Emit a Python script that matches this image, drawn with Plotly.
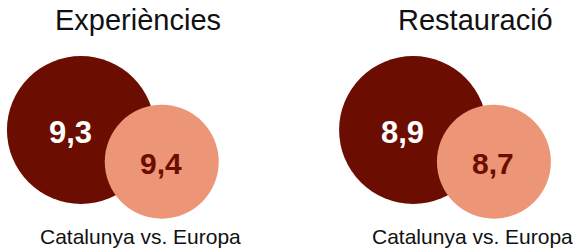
import plotly.graph_objects as go

# ---- data ----
categories = ["Experiències", "Restauració"]
catalunya = [9.3, 8.9]
europa = [9.4, 8.7]
caption = "Catalunya vs. Europa"

def fmt(v):
    return f"{v:.1f}".replace(".", ",")

# ---- style ----
DARK = "#6B0D00"
SALMON = "#EC9577"
FONT = "Liberation Sans, Arial, Helvetica, sans-serif"
W, H = 575, 248
UNIT = 332.15          # px per category
MID0 = 121.35          # px of first pair centre
OFF = 40.4 / UNIT      # horizontal offset of each circle from pair centre
Y_BIG, Y_SMALL = 130, 161.7
D_BIG, D_SMALL = 148, 114

idx = list(range(len(categories)))
x_big = [i - OFF for i in idx]
x_small = [i + OFF for i in idx]

fig = go.Figure()
fig.add_trace(go.Scatter(
    x=x_big, y=[Y_BIG] * len(idx), mode="markers",
    marker=dict(size=D_BIG, color=DARK, line=dict(width=0), opacity=1),
    cliponaxis=False, hoverinfo="skip", showlegend=False))
fig.add_trace(go.Scatter(
    x=x_small, y=[Y_SMALL] * len(idx), mode="markers",
    marker=dict(size=D_SMALL, color=SALMON, line=dict(width=0), opacity=1),
    cliponaxis=False, hoverinfo="skip", showlegend=False))

ann = []
for i, cat in enumerate(categories):
    ann.append(dict(x=i + 101.75 / UNIT, y=20, text=cat, showarrow=False,
                    xanchor="right", yanchor="middle",
                    font=dict(family=FONT, size=29, color="#111111")))
    ann.append(dict(x=i + 18.85 / UNIT, y=236, text=caption, showarrow=False,
                    xanchor="center", yanchor="middle",
                    font=dict(family=FONT, size=21, color="#111111")))
    ann.append(dict(x=x_big[i] - 10.5 / UNIT, y=Y_BIG + 2, text=f"<b>{fmt(catalunya[i])}</b>",
                    showarrow=False, xanchor="center", yanchor="middle",
                    font=dict(family=FONT, size=31, color="white")))
    ann.append(dict(x=x_small[i] - 1 / UNIT, y=Y_SMALL + 1.3, text=f"<b>{fmt(europa[i])}</b>",
                    showarrow=False, xanchor="center", yanchor="middle",
                    font=dict(family=FONT, size=30, color=DARK)))

fig.update_layout(
    width=W, height=H,
    margin=dict(l=0, r=0, t=0, b=0),
    paper_bgcolor="white", plot_bgcolor="white",
    xaxis=dict(range=[-MID0 / UNIT, (W - MID0) / UNIT], visible=False, fixedrange=True),
    yaxis=dict(range=[H, 0], visible=False, fixedrange=True),
    annotations=ann,
    showlegend=False,
)

fig.write_html("out.html", config={"displayModeBar": False},
               post_script="document.body.style.margin='0';document.body.style.overflow='hidden';")
